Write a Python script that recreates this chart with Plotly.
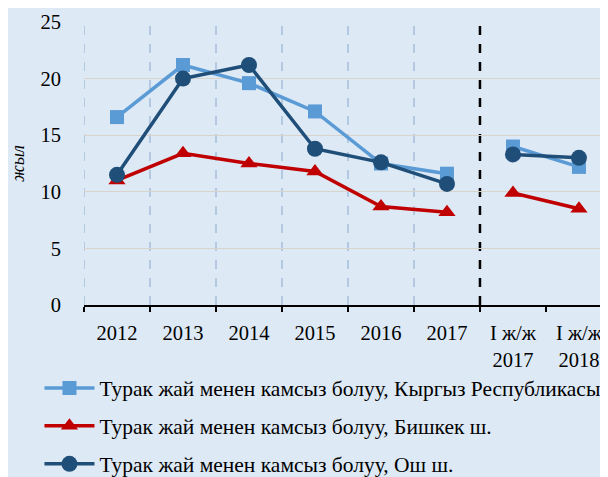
import plotly.graph_objects as go

categories = ["2012", "2013", "2014", "2015", "2016", "2017", "I ж/ж<br>2017", "I ж/ж<br>2018"]
kyrgyz = [16.6, 21.2, 19.6, 17.1, 12.5, 11.6, 14.0, 12.2]
bishkek = [11.0, 13.4, 12.5, 11.8, 8.7, 8.2, 9.9, 8.5]
osh = [11.5, 20.0, 21.2, 13.8, 12.6, 10.7, 13.3, 13.0]
names = [
    "Турак жай менен камсыз болуу, Кыргыз Республикасы",
    "Турак жай менен камсыз болуу, Бишкек ш.",
    "Турак жай менен камсыз болуу, Ош ш.",
]
yticks = [0, 5, 10, 15, 20, 25]

series = [
    (kyrgyz, names[0], "#5b9bd5", "square", 14),
    (bishkek, names[1], "#c00000", "triangle-up", 15),
    (osh, names[2], "#1f4e79", "circle", 16),
]

SERIF = "Times New Roman, Liberation Serif, DejaVu Serif, serif"

fig = go.Figure()
for vals, name, color, sym, size in series:
    for part, (a, b) in enumerate([(0, 6), (6, 8)]):
        fig.add_trace(go.Scatter(
            x=categories[a:b], y=vals[a:b], mode="lines+markers", name=name,
            legendgroup=name, showlegend=(part == 0),
            line=dict(color=color, width=3.5),
            marker=dict(symbol=sym, size=size, color=color),
        ))

bg = "#dde9f5"
shapes = []
for i in range(7):
    xb = i - 0.5
    black = (i == 6)
    shapes.append(dict(
        type="line", xref="x", yref="y", x0=xb, x1=xb, y0=0, y1=25,
        line=dict(color="#000000" if black else "#b4c8e1", width=2.5 if black else 2,
                  dash="dash"),
        layer="below",
    ))

fig.update_layout(
    width=600, height=485,
    paper_bgcolor=bg, plot_bgcolor=bg,
    margin=dict(l=76, r=0, t=14, b=188),
    font=dict(family=SERIF, size=20.5, color="#000000"),
    shapes=shapes,
    showlegend=True,
    legend=dict(
        x=-0.085, y=-0.634, xanchor="left", yanchor="bottom",
        bgcolor="rgba(0,0,0,0)", tracegroupgap=7, itemwidth=50,
        font=dict(family=SERIF, size=21.5),
    ),
    xaxis=dict(
        type="category", categoryorder="array", categoryarray=categories,
        range=[-0.5, 7.44], showgrid=False, zeroline=False,
        showline=True, linecolor="#000000", linewidth=1.5,
        ticks="outside", tickson="boundaries", ticklen=5, tickcolor="#000000",
        tickwidth=1.5, ticklabelstandoff=9,
    ),
    yaxis=dict(
        range=[0, 25], tickvals=yticks, showgrid=True, gridcolor="#d8d4cc",
        gridwidth=1, zeroline=False, showline=False, ticks="",
        ticklabelstandoff=22,
        title=dict(text="<i>жыл</i>", font=dict(family=SERIF, size=18), standoff=18),
    ),
)

fig.write_html("out.html")
